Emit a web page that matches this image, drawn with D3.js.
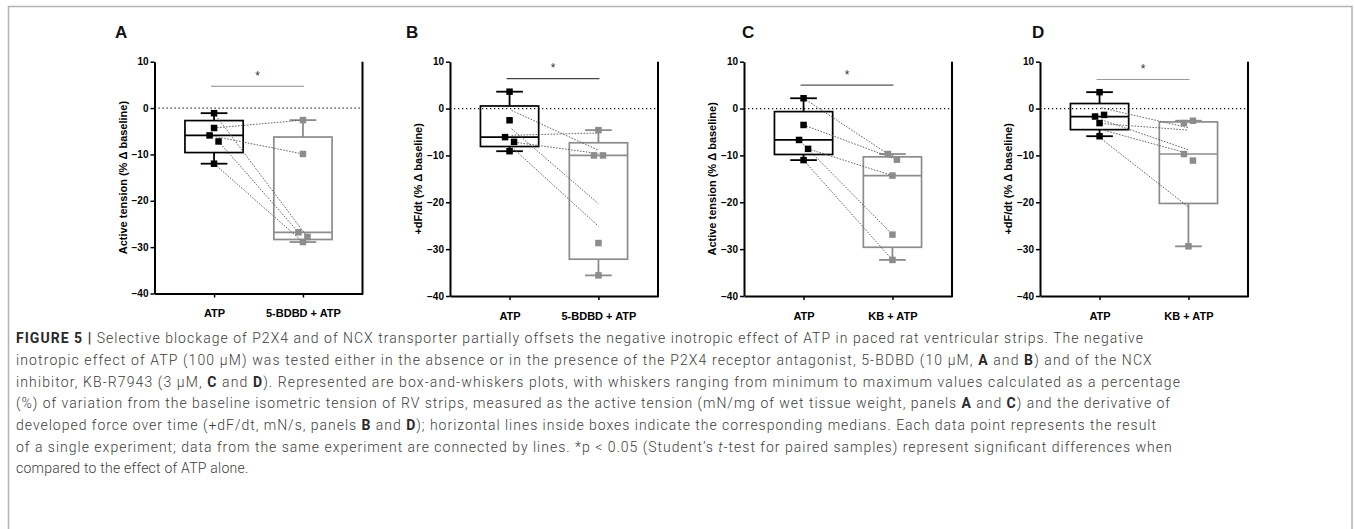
<!DOCTYPE html>
<html><head><meta charset="utf-8">
<script src="https://cdn.jsdelivr.net/npm/d3@7"></script>
<style>body{margin:0;background:#fff}svg text{white-space:pre}</style>
</head><body>
<svg id="c" width="1355" height="529"></svg>
<script>
// ---------------- DATA ----------------
const panelLetters = ["A", "B", "C", "D"];
const categoriesAB = ["ATP", "5-BDBD + ATP"];
const categoriesCD = ["ATP", "KB + ATP"];
const yTicks = [10, 0, -10, -20, -30, -40];
const yTitles = ["Active tension (% \u0394 baseline)", "+dF/dt (% \u0394 baseline)",
                 "Active tension (% \u0394 baseline)", "+dF/dt (% \u0394 baseline)"];

// Panel A (paired: atpA[i] -> drugA[i])
const atpA  = [-5.9, -7.2, -1.1, -4.3, -12.0];
const drugA = [-9.9, -26.8, -27.8, -2.6, -28.9];
// Panel B
const atpB  = [3.6, -2.5, -6.1, -7.1, -9.1];
const drugB = [-4.6, -10.0, -10.0, -28.7, -35.6];
const linkFromB = [-0.4, -5.7, -7.1, -4.3, -8.2];
const linkToB   = [-8.9, -5.2, -9.6, -20.3, -25.1];
// Panel C (paired: atpC[i] -> drugC[i])
const atpC  = [2.2, -3.5, -6.7, -8.6, -11.0];
const drugC = [-9.7, -10.9, -26.9, -14.3, -32.3];
// Panel D
const atpD  = [3.5, -1.7, -1.35, -3.1, -5.9];
const drugD = [-3.1, -2.6, -9.7, -11.1, -29.4];
const linkFromD = [0.15, -3.2, -2.4, -4.5, -6.5];
const linkToD   = [-4.1, -4.6, -8.8, -9.6, -21.0];
// significance bar level (data units) and label
const sigLevels = [4.7, 6.4, 5.0, 6.2];
const sigLabel = "*";

const captionLines = [
 [["FIGURE 5 | ","b"],["Selective blockage of P2X4 and of NCX transporter partially offsets the negative inotropic effect of ATP in paced rat ventricular strips. The negative"]],
 [["inotropic effect of ATP (100 \u03bcM) was tested either in the absence or in the presence of the P2X4 receptor antagonist, 5-BDBD (10 \u03bcM, "],["A","b"],[" and "],["B","b"],[") and of the NCX"]],
 [["inhibitor, KB-R7943 (3 \u03bcM, "],["C","b"],[" and "],["D","b"],["). Represented are box-and-whiskers plots, with whiskers ranging from minimum to maximum values calculated as a percentage"]],
 [["(%) of variation from the baseline isometric tension of RV strips, measured as the active tension (mN/mg of wet tissue weight, panels "],["A","b"],[" and "],["C","b"],[") and the derivative of"]],
 [["developed force over time (+dF/dt, mN/s, panels "],["B","b"],[" and "],["D","b"],["); horizontal lines inside boxes indicate the corresponding medians. Each data point represents the result"]],
 [["of a single experiment; data from the same experiment are connected by lines. *p < 0.05 (Student\u2019s "],["t","i"],["-test for paired samples) represent significant differences when"]],
 [["compared to the effect of ATP alone."]]
];

// ---------------- LAYOUT / STYLE ----------------
const layout = [
  {x0: 154.5, bottom: 293.5, letterX: 115},
  {x0: 450,   bottom: 296,   letterX: 406},
  {x0: 744,   bottom: 296,   letterX: 742},
  {x0: 1040,  bottom: 296,   letterX: 1032}
];
const sigColors = ["#8a8a8a", "#444", "#555", "#9a9a9a"];
const plotTop = 61.7, plotW = 208;
const captionRight = [1143, 1151.7, 1180, 1170, 1156, 1171.7, 248.3];
const FONT = "'Liberation Sans', Arial, Helvetica, sans-serif";
const GRAY = "#8c8c8c";

const panels = [
  {cats: categoriesAB, atp: atpA, drug: drugA, paired: true},
  {cats: categoriesAB, atp: atpB, drug: drugB, paired: false, from: linkFromB, to: linkToB},
  {cats: categoriesCD, atp: atpC, drug: drugC, paired: true},
  {cats: categoriesCD, atp: atpD, drug: drugD, paired: false, from: linkFromD, to: linkToD}
];

// Prism-style quartiles ((n+1)p method)
function q(sorted, p) {
  const n = sorted.length, pos = (n + 1) * p;
  if (pos <= 1) return sorted[0];
  if (pos >= n) return sorted[n - 1];
  const lo = Math.floor(pos), f = pos - lo;
  return sorted[lo - 1] + f * (sorted[lo] - sorted[lo - 1]);
}
function stats(vals) {
  const s = vals.slice().sort((a, b) => a - b);
  return {min: s[0], q1: q(s, .25), med: q(s, .5), q3: q(s, .75), max: s[s.length - 1]};
}
// dodge overlapping markers into pairs
function dodge(vals, y, w) {
  const idx = vals.map((v, i) => i).sort((a, b) => vals[b] - vals[a]);
  const off = vals.map(() => 0), used = vals.map(() => false);
  while (true) {
    let best = -1, bg = 1e9;
    for (let k = 0; k < idx.length - 1; k++) {
      const a = idx[k], b = idx[k + 1];
      if (used[a] || used[b]) continue;
      const g = Math.abs(y(vals[a]) - y(vals[b]));
      if (g < 10 && g < bg) { bg = g; best = k; }
    }
    if (best < 0) break;
    const a = idx[best], b = idx[best + 1];
    used[a] = used[b] = true;
    off[Math.min(a, b)] = -w; off[Math.max(a, b)] = w;
  }
  return off;
}

const svg = d3.select("#c");
svg.append("rect").attr("x", 8.5).attr("y", 6.5).attr("width", 1343.5).attr("height", 700)
  .attr("fill", "none").attr("stroke", "#b3b3b3").attr("stroke-width", 1.5);

panels.forEach((p, i) => {
  const L = layout[i];
  const g = svg.append("g");
  const y = d3.scaleLinear().domain([-40, 10]).range([L.bottom, plotTop]);
  const x = d3.scalePoint().domain(p.cats).range([L.x0, L.x0 + plotW]).padding(0.67);
  const step = x.step();

  // panel letter
  g.append("text").attr("x", L.letterX).attr("y", 38).text(panelLetters[i])
    .attr("font-family", FONT).attr("font-weight", "bold").attr("font-size", 17).attr("fill", "#111");

  // zero dotted line
  g.append("line").attr("x1", L.x0).attr("x2", L.x0 + plotW).attr("y1", y(0)).attr("y2", y(0))
    .attr("stroke", "#222").attr("stroke-width", 1.3).attr("stroke-dasharray", "1.3,2.7");

  // right border
  g.append("line").attr("x1", L.x0 + plotW).attr("x2", L.x0 + plotW).attr("y1", plotTop).attr("y2", L.bottom + 1)
    .attr("stroke", "#000").attr("stroke-width", 2);

  // axes
  const ya = g.append("g").attr("transform", `translate(${L.x0},0)`)
    .call(d3.axisLeft(y).tickValues(yTicks).tickSize(4).tickSizeOuter(0).tickPadding(2));
  ya.attr("font-family", FONT).attr("font-size", 10).attr("font-weight", "bold");
  ya.select(".domain").attr("stroke", "#000").attr("stroke-width", 2);
  ya.selectAll(".tick line").attr("stroke", "#000").attr("stroke-width", 1.5);
  ya.selectAll(".tick text").attr("fill", "#000");

  const xa = g.append("g").attr("transform", `translate(0,${L.bottom})`)
    .call(d3.axisBottom(x).tickSize(4).tickSizeOuter(0).tickPadding(12));
  xa.attr("font-family", FONT).attr("font-size", 11).attr("font-weight", "bold");
  xa.select(".domain").attr("stroke", "#000").attr("stroke-width", 2);
  xa.selectAll(".tick line").attr("stroke", "#000").attr("stroke-width", 1.5);
  xa.selectAll(".tick text").attr("fill", "#000");

  // y title
  const cy = (plotTop + L.bottom) / 2;
  g.append("text").attr("transform", `translate(${L.x0 - 28},${cy}) rotate(-90)`)
    .attr("text-anchor", "middle").text(yTitles[i])
    .attr("font-family", FONT).attr("font-weight", "bold").attr("font-size", 11).attr("fill", "#000");

  // significance bar
  const sy = y(sigLevels[i]);
  g.append("line").attr("x1", x(p.cats[0]) - 3).attr("x2", x(p.cats[1]) + 1).attr("y1", sy).attr("y2", sy)
    .attr("stroke", sigColors[i]).attr("stroke-width", 1.2);
  g.append("text").attr("x", (x(p.cats[0]) + x(p.cats[1])) / 2 - 1).attr("y", sy - 6.5)
    .attr("text-anchor", "middle").text(sigLabel)
    .attr("font-family", FONT).attr("font-size", 12).attr("fill", "#333");

  // boxes
  const groups = [{vals: p.atp, color: "#000", cat: p.cats[0]}, {vals: p.drug, color: GRAY, cat: p.cats[1]}];
  const bw = step * 0.655, cw = step * 0.3;
  groups.forEach(gr => {
    const s = stats(gr.vals), cx = x(gr.cat);
    g.append("line").attr("x1", cx).attr("x2", cx).attr("y1", y(s.max)).attr("y2", y(s.q3))
      .attr("stroke", gr.color).attr("stroke-width", 1.8);
    g.append("line").attr("x1", cx).attr("x2", cx).attr("y1", y(s.q1)).attr("y2", y(s.min))
      .attr("stroke", gr.color).attr("stroke-width", 1.8);
    [s.max, s.min].forEach(v => g.append("line").attr("x1", cx - cw / 2).attr("x2", cx + cw / 2)
      .attr("y1", y(v)).attr("y2", y(v)).attr("stroke", gr.color).attr("stroke-width", 1.8));
    g.append("rect").attr("x", cx - bw / 2).attr("y", y(s.q3)).attr("width", bw).attr("height", y(s.q1) - y(s.q3))
      .attr("fill", "none").attr("stroke", gr.color).attr("stroke-width", 1.7);
    g.append("line").attr("x1", cx - bw / 2).attr("x2", cx + bw / 2).attr("y1", y(s.med)).attr("y2", y(s.med))
      .attr("stroke", gr.color).attr("stroke-width", 1.7);
    gr.off = dodge(gr.vals, y, 4.5);
  });

  // connecting lines
  let segs;
  if (p.paired) {
    segs = p.atp.map((v, k) => [x(p.cats[0]) + groups[0].off[k], y(v), x(p.cats[1]) + groups[1].off[k], y(p.drug[k])]);
  } else {
    segs = p.from.map((v, k) => [x(p.cats[0]) + 2, y(v), x(p.cats[1]), y(p.to[k])]);
  }
  g.selectAll(".lnk").data(segs).enter().append("line")
    .attr("x1", d => d[0]).attr("y1", d => d[1]).attr("x2", d => d[2]).attr("y2", d => d[3])
    .attr("stroke", "#555").attr("stroke-width", 0.9).attr("stroke-dasharray", "1.6,1.4");

  // points
  const ms = 6.5;
  groups.forEach(gr => {
    g.selectAll(null).data(gr.vals).enter().append("rect")
      .attr("x", (d, k) => x(gr.cat) + gr.off[k] - ms / 2).attr("y", d => y(d) - ms / 2)
      .attr("width", ms).attr("height", ms).attr("fill", gr.color);
  });
});

// caption
const capTop = 343.3, capLH = 21.67, capX = 16;
captionLines.forEach((segs, li) => {
  const t = svg.append("text").attr("x", capX).attr("y", capTop + li * capLH)
    .attr("font-family", "Roboto, 'Liberation Sans', Arial, sans-serif").attr("font-size", 14)
    .attr("font-weight", 300).attr("fill", "#3c3c3c")
    .attr("textLength", captionRight[li] - capX).attr("lengthAdjust", "spacing");
  segs.forEach(s => {
    const ts = t.append("tspan").text(s[0]);
    if (s[1] === "b") ts.attr("font-weight", 700).attr("fill", "#2a2a2a");
    if (s[1] === "i") ts.attr("font-style", "italic");
  });
});
</script>
</body></html>
